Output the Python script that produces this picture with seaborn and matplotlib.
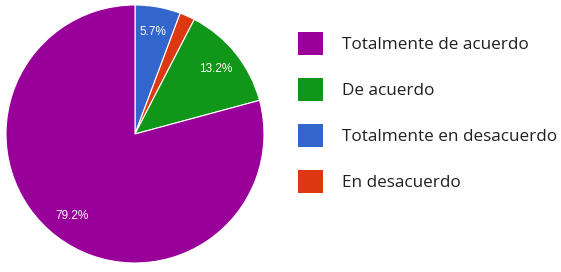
import matplotlib.pyplot as plt
import seaborn as sns
from matplotlib.patches import Patch

# datos (orden de la leyenda)
categorias = ["Totalmente de acuerdo", "De acuerdo", "Totalmente en desacuerdo", "En desacuerdo"]
porcentajes = [79.2, 13.2, 5.7, 1.9]
colores = ["#990099", "#109618", "#3366cc", "#dc3912"]

# orden de dibujo del pastel (desde arriba, sentido horario)
orden = [2, 3, 1, 0]

sns.set_theme(style="white")
plt.rcParams['font.family'] = ['Open Sans', 'DejaVu Sans']

fig = plt.figure(figsize=(5.61, 2.72), dpi=100)
ax = fig.add_axes([6/561, 9/272, 258/561, 258/272])


def etiqueta(p):
    return f"{p:.1f}%" if p >= 5 else ""


ax.pie([porcentajes[i] for i in orden],
       colors=[colores[i] for i in orden],
       startangle=90, counterclock=False,
       autopct=etiqueta, pctdistance=0.8,
       wedgeprops={"edgecolor": "white", "linewidth": 0.8},
       textprops={"color": "white", "fontsize": 8.5, "family": ["Liberation Sans", "DejaVu Sans"]})
ax.set_xlim(-1, 1)
ax.set_ylim(-1, 1)
ax.set_aspect("equal")

handles = [Patch(facecolor=c, edgecolor="none") for c in colores]
leg = fig.legend(handles, categorias, loc="upper left",
                 bbox_to_anchor=(298/561, 1 - 32/272), frameon=False,
                 fontsize=12.3, handlelength=1.45, handleheight=1.65,
                 handletextpad=1.1, labelspacing=1.38, borderpad=0, borderaxespad=0)
for t in leg.get_texts():
    t.set_color("#202020")

fig.savefig("out.png", dpi=100)
